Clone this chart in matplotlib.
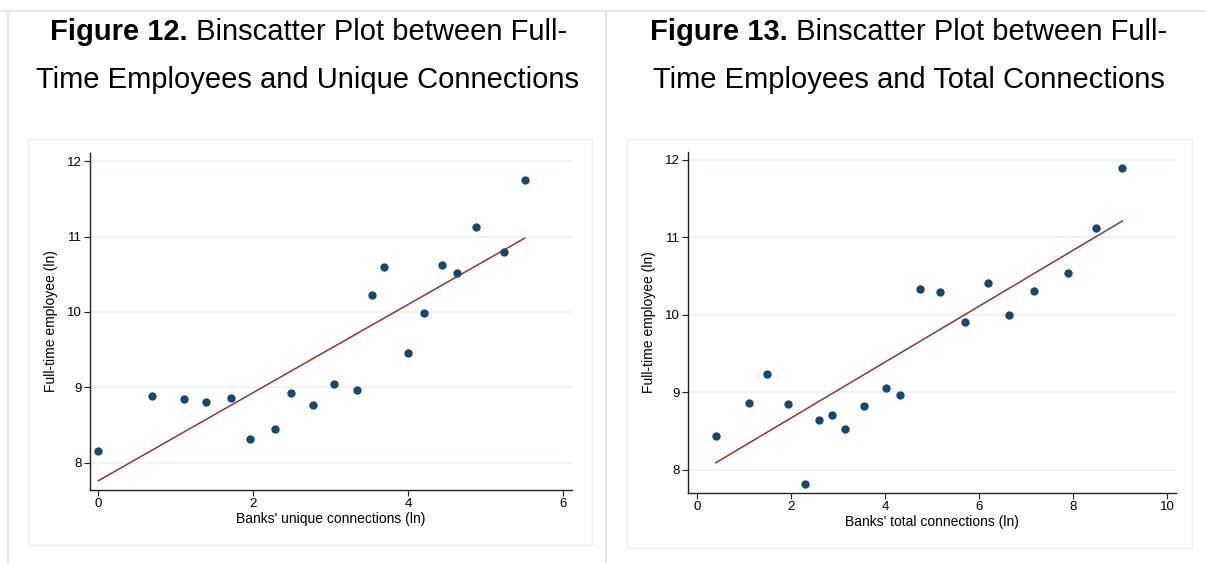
import matplotlib.pyplot as plt
from matplotlib.patches import Rectangle
from matplotlib.lines import Line2D
from matplotlib.text import Annotation

plt.rcParams['font.family'] = ['Liberation Sans', 'DejaVu Sans']

# Figure 12: unique connections
unique_x = [0.0, 0.69, 1.10, 1.39, 1.71, 1.95, 2.28, 2.49, 2.77, 3.04,
            3.33, 3.53, 3.69, 4.00, 4.20, 4.43, 4.63, 4.87, 5.23, 5.50]
unique_y = [8.16, 8.88, 8.84, 8.80, 8.86, 8.31, 8.45, 8.92, 8.76, 9.04,
            8.97, 10.23, 10.59, 9.46, 9.99, 10.62, 10.52, 11.13, 10.79, 11.75]
unique_fit_x = [0.0, 5.50]
unique_fit_y = [7.76, 10.98]

# Figure 13: total connections
total_x = [0.40, 1.10, 1.48, 1.94, 2.30, 2.59, 2.87, 3.14, 3.55, 4.03,
           4.31, 4.75, 5.16, 5.71, 6.20, 6.64, 7.17, 7.89, 8.48, 9.05]
total_y = [8.43, 8.86, 9.24, 8.85, 7.81, 8.64, 8.71, 8.53, 8.82, 9.06,
           8.96, 10.33, 10.30, 9.91, 10.41, 10.00, 10.31, 10.54, 11.12, 11.90]
total_fit_x = [0.40, 9.05]
total_fit_y = [8.09, 11.21]

W, H = 1206, 563
fig = plt.figure(figsize=(12.06, 5.63), dpi=100)

def px(x, y):
    return x / W, 1 - y / H

# panel frames
fig.add_artist(Line2D([0.5 / W, 1], [1 - 10.5 / H] * 2, color='#e6e6e6', lw=1.5))
fig.add_artist(Line2D([8 / W] * 2, [0, 1 - 10.5 / H], color='#e6e6e6', lw=1.5))
fig.add_artist(Line2D([605.5 / W] * 2, [0, 1 - 10.5 / H], color='#e6e6e6', lw=1.5))
for x0, x1, y0, y1 in [(28, 592, 139, 545), (627, 1192, 139, 548)]:
    fig.add_artist(Rectangle((x0 / W, 1 - y1 / H), (x1 - x0) / W, (y1 - y0) / H,
                             fill=False, ec='#eeeeee', lw=1))

# titles
def title(x_start, x_center, num, rest1, rest2):
    t = fig.text(*px(x_start, 32), 'Figure %d.' % num, fontsize=21,
                 fontweight='bold', va='center', ha='left')
    fig.add_artist(Annotation(' ' + rest1, xy=(1, 0.5), xycoords=t,
                              fontsize=21, va='center', ha='left'))
    fig.text(*px(x_center, 80), rest2, fontsize=21, va='center', ha='center')

title(50, 308, 12, 'Binscatter Plot between Full-',
      'Time Employees and Unique Connections')
title(650, 909, 13, 'Binscatter Plot between Full-',
      'Time Employees and Total Connections')

def panel(rect, xs, ys, fx, fy, xlim, ylim, xticks, xlabel):
    ax = fig.add_axes(rect)
    ax.scatter(xs, ys, s=36, color='#1a476f', zorder=3, linewidths=0)
    ax.plot(fx, fy, color='#90353b', lw=1.1, zorder=2)
    ax.set_xlim(*xlim)
    ax.set_ylim(*ylim)
    ax.set_xticks(xticks)
    ax.set_yticks([8, 9, 10, 11, 12])
    ax.grid(axis='y', color='#eaf2f3', lw=1.2)
    ax.set_axisbelow(True)
    for s in ['top', 'right']:
        ax.spines[s].set_visible(False)
    for s in ['left', 'bottom']:
        ax.spines[s].set_color('#222222')
        ax.spines[s].set_linewidth(1.0)
    ax.tick_params(labelsize=9.5, length=4, width=0.8, color='#222222', pad=2)
    ax.set_xlabel(xlabel, fontsize=10, labelpad=1)
    ax.set_ylabel('Full-time employee (ln)', fontsize=10, labelpad=6)
    return ax

panel([90 / W, 1 - 490 / H, 482 / W, 337 / H], unique_x, unique_y,
      unique_fit_x, unique_fit_y, (-0.109, 6.11), (7.636, 12.11),
      [0, 2, 4, 6], "Banks' unique connections (ln)")
panel([688 / W, 1 - 493 / H, 488 / W, 341 / H], total_x, total_y,
      total_fit_x, total_fit_y, (-0.19, 10.19), (7.70, 12.1),
      [0, 2, 4, 6, 8, 10], "Banks' total connections (ln)")

fig.savefig('out.png', dpi=100)
